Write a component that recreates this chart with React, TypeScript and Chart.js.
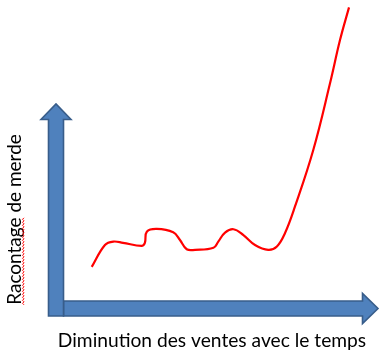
import React, { useEffect, useRef } from "react";
import { Chart, registerables } from "chart.js";

Chart.register(...registerables);

// Data: abstract time (0-100) vs. "racontage" level (0-100)
const timeX = [11.1, 15.2, 17.8, 20.8, 26.6, 27.6, 28.2, 31.3, 36.4, 38.5, 40.6, 43.2, 48.9, 50.4, 52.5, 55.1, 58.2, 61.8, 65.9, 68.6, 71.1, 74.2, 79.9, 85.1, 88.2, 91.0];
const racontage = [13.5, 20.6, 21.7, 21.3, 20.3, 21.3, 24.9, 25.8, 24.7, 22.2, 19.2, 19.0, 19.7, 21.7, 24.6, 25.7, 23.8, 20.6, 19.0, 20.1, 24.4, 33.0, 51.4, 73.0, 87.0, 97.6];

const xAxisTitle = "Diminution des ventes avec le temps";
const yAxisTitle = "Racontage de merde";
const misspelledWord = "Racontage";
const xAxisEnd = 100;
const yAxisEnd = 66.3;

const arrowsPlugin = {
  id: "arrowAxes",
  beforeDatasetsDraw(chart: any) {
    const { ctx, scales } = chart;
    const xs = scales.x;
    const ys = scales.y;
    const ox = xs.getPixelForValue(0);
    const oy = ys.getPixelForValue(0);
    const xt = xs.getPixelForValue(xAxisEnd);
    const yt = ys.getPixelForValue(yAxisEnd);
    const hw = 7.5;
    const head = 15;
    const hl = 15.5;
    ctx.save();
    ctx.fillStyle = "#4F81BD";
    ctx.strokeStyle = "#385D8A";
    ctx.lineWidth = 1.6;
    ctx.lineJoin = "miter";
    // horizontal arrow
    ctx.beginPath();
    ctx.moveTo(ox + hw, oy - hw);
    ctx.lineTo(xt - hl, oy - hw);
    ctx.lineTo(xt - hl, oy - head);
    ctx.lineTo(xt, oy);
    ctx.lineTo(xt - hl, oy + head);
    ctx.lineTo(xt - hl, oy + hw);
    ctx.lineTo(ox + hw, oy + hw);
    ctx.closePath();
    ctx.fill();
    ctx.stroke();
    // vertical arrow
    ctx.beginPath();
    ctx.moveTo(ox - hw, oy + hw);
    ctx.lineTo(ox - hw, yt + hl);
    ctx.lineTo(ox - head, yt + hl);
    ctx.lineTo(ox, yt);
    ctx.lineTo(ox + head, yt + hl);
    ctx.lineTo(ox + hw, yt + hl);
    ctx.lineTo(ox + hw, oy + hw);
    ctx.closePath();
    ctx.fill();
    ctx.stroke();
    ctx.restore();
  },
  afterDraw(chart: any) {
    const { ctx, scales } = chart;
    const ox = scales.x.getPixelForValue(0);
    const oy = scales.y.getPixelForValue(0);
    ctx.save();
    ctx.fillStyle = "#000";
    // x title
    ctx.font = "19.2px Lato";
    ctx.textAlign = "center";
    ctx.textBaseline = "alphabetic";
    ctx.fillText(xAxisTitle, ox + 156, oy + 38);
    // y title (rotated)
    ctx.font = "19px Lato";
    const bx = ox - 35;
    const cy = oy - 89;
    ctx.translate(bx, cy);
    ctx.rotate(-Math.PI / 2);
    ctx.fillText(yAxisTitle, 0, 0);
    const full = ctx.measureText(yAxisTitle).width;
    const w = ctx.measureText(misspelledWord).width;
    // spell-check squiggle under first word
    ctx.strokeStyle = "#FF0000";
    ctx.lineWidth = 1;
    ctx.beginPath();
    const start = -full / 2;
    let up = true;
    ctx.moveTo(start, 3);
    for (let p = start + 1.5; p <= start + w; p += 1.5) {
      ctx.lineTo(p, up ? 1.5 : 3);
      up = !up;
    }
    ctx.stroke();
    ctx.restore();
  },
};

export default function App() {
  const ref = useRef<HTMLCanvasElement>(null);
  useEffect(() => {
    if (!ref.current) return;
    const chart = new Chart(ref.current, {
      type: "line",
      data: {
        datasets: [
          {
            data: timeX.map((x, i) => ({ x, y: racontage[i] })),
            borderColor: "#FF0000",
            borderWidth: 2.2,
            pointRadius: 0,
            fill: false,
            tension: 0.4,
          },
        ],
      },
      options: {
        responsive: false,
        animation: false,
        devicePixelRatio: 1,
        layout: { padding: { left: 56, right: 10, top: 0, bottom: 47.5 } },
        plugins: { legend: { display: false }, tooltip: { enabled: false } },
        scales: {
          x: { type: "linear", min: 0, max: 100, display: false },
          y: { type: "linear", min: 0, max: 100, display: false },
        },
      },
      plugins: [arrowsPlugin],
    });
    return () => chart.destroy();
  }, []);
  return (
    <div style={{ position: "fixed", left: 0, top: 0, width: 388, height: 356, background: "#fff" }}>
      <canvas ref={ref} width={388} height={356} />
    </div>
  );
}
